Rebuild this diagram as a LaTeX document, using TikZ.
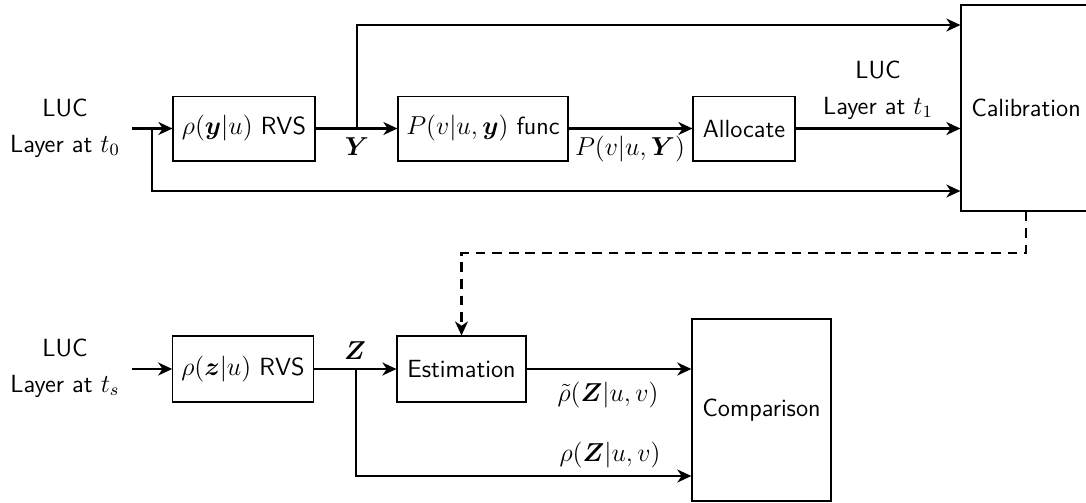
\documentclass[tikz,border=0pt]{standalone}
\usepackage{amsmath,bm}
\usetikzlibrary{arrows.meta}
\newcommand{\diafont}{\fontsize{11.5}{14}\selectfont\sffamily}
\tikzset{
  blk/.style={draw, line width=0.55pt, inner sep=0pt, font=\diafont},
  lbl/.style={font=\diafont, align=center, inner sep=0pt},
  flow/.style={line width=1pt, -{Stealth[length=6.5pt,width=6pt,inset=2pt]}},
  dflow/.style={flow, dash pattern=on 4.5pt off 3.2pt},
}
\begin{document}
\begin{tikzpicture}[x=0.463pt, y=-0.463pt]
\useasboundingbox (0,0) rectangle (1086,502);

% blocks of the upper chain
\node[blk, minimum width=65.7pt, minimum height=30pt] (rvsy) at (244,128.5) {$\rho(\bm{y}|u)$ RVS};
\node[blk, minimum width=78.7pt, minimum height=30pt] (func) at (483,128.5) {$P(v|u,\bm{y})$ func};
\node[blk, minimum width=47.2pt, minimum height=30pt] (alloc) at (744,128.5) {Allocate};
\node[blk, minimum width=60.2pt, minimum height=95.4pt] (calib) at (1026,108) {Calibration};

% blocks of the lower chain
\node[blk, minimum width=65pt, minimum height=30.5pt] (rvsz) at (243,369) {$\rho(\bm{z}|u)$ RVS};
\node[blk, minimum width=59.7pt, minimum height=30.5pt] (est) at (461.5,369) {Estimation};
\node[blk, minimum width=64.4pt, minimum height=84.3pt] (comp) at (761.5,410) {Comparison};

% labels
\node[lbl] (in0) at (65,128) {LUC\\[2.5pt]Layer at $t_0$};
\node[lbl] (in1) at (878,90) {LUC\\[2.5pt]Layer at $t_1$};
\node[lbl] (ins) at (65,368) {LUC\\[2.5pt]Layer at $t_s$};
\node[lbl] (ylab) at (357,147) {$\bm{Y}$};
\node[lbl] (plab) at (630,149) {$P(v|u,\bm{Y})$};
\node[lbl] (zlab) at (355,351) {$\bm{Z}$};
\node[lbl] (rtlab) at (608,395) {$\tilde{\rho}(\bm{Z}|u,v)$};
\node[lbl] (rlab) at (610,455) {$\rho(\bm{Z}|u,v)$};

% junction points
\coordinate (s0) at (132,128.5);
\coordinate (b0) at (152,128.5);
\coordinate (bot) at (152,191);
\coordinate (yb) at (357,128.5);
\coordinate (ytop) at (357,25);
\coordinate (s2) at (132,369);
\coordinate (zb) at (356,369);
\coordinate (zbot) at (356,476);
\coordinate (dc) at (1026,253);

% upper chain
\draw[flow] (s0) -- (rvsy);
\draw[flow] (rvsy) -- (func);
\draw[flow] (func) -- (alloc);
\draw[flow] (alloc) -- (alloc -| calib.west);
\draw[flow] (yb) -- (ytop) -- (ytop -| calib.west);
\draw[flow] (b0) -- (bot) -- (bot -| calib.west);

% calibration feeds estimation
\draw[dflow] (calib.south) -- (calib.south |- dc) -| (est.north);

% lower chain
\draw[flow] (s2) -- (rvsz);
\draw[flow] (rvsz) -- (est);
\draw[flow] (est) -- (est -| comp.west);
\draw[flow] (zb) -- (zbot) -- (zbot -| comp.west);
\end{tikzpicture}
\end{document}
